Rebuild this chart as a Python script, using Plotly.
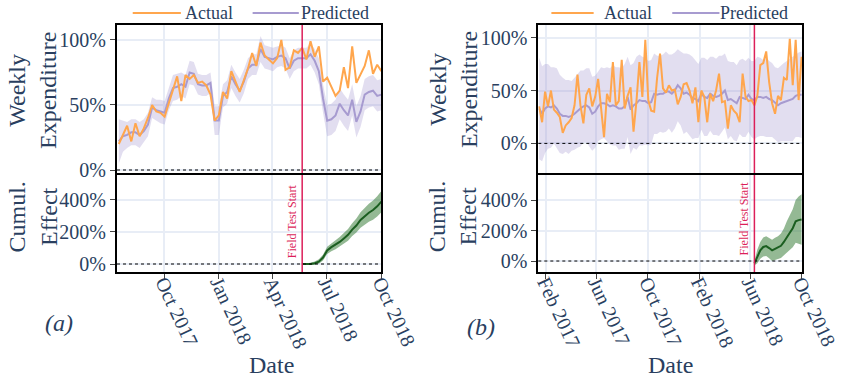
import pandas as pd
import plotly.graph_objects as go

# ---------------- data ----------------
# (a) weekly series, Jul 2017 - Sep 2018
dates_a = pd.date_range("2017-07-17", periods=64, freq="7D")
actual_a = [20, 27, 34, 22, 36, 26, 32, 40, 50, 45, 44, 41, 52, 63, 72, 53,
            73, 70, 73, 67, 68, 65, 58, 38, 42, 60, 55, 76, 68, 60, 69, 78,
            90, 80, 98, 88, 85, 82, 86, 100, 77, 79, 92, 90, 94, 85, 99, 87,
            95, 68, 71, 64, 57, 61, 79, 63, 95, 67, 73, 80, 92, 74, 81, 76]
pred_a = [22, 26, 27, 29, 29, 27, 30, 35, 48, 46, 45, 44, 55, 63, 64, 66,
          64, 75, 74, 66, 65, 65, 67, 38, 38, 57, 60, 72, 66, 61, 68, 78,
          81, 81, 93, 87, 86, 85, 87, 88, 86, 78, 84, 86, 86, 86, 89, 84,
          76, 55, 38, 39, 42, 51, 46, 42, 54, 37, 45, 58, 60, 61, 57, 58]
pred_a_spread = [17, 12, 10, 10, 10, 10, 9, 9, 8, 8, 9, 9, 9, 10, 10, 9,
                 9, 9, 9, 8, 8, 8, 8, 11, 11, 9, 9, 9, 9, 9, 9, 8,
                 8, 8, 10, 9, 9, 9, 8, 8, 8, 8, 8, 8, 8, 8, 8, 9,
                 10, 11, 12, 12, 12, 12, 12, 12, 12, 12, 12, 12, 12, 12, 12, 12]
test_start_a = "2018-05-21"
cumul_a = [0, -2, 0, 5, 15, 40, 85, 105, 120, 138, 160, 182, 215, 240,
           275, 300, 320, 337, 360, 390]
cumul_a_spread = [3, 5, 8, 10, 14, 18, 22, 25, 28, 30, 33, 36, 40, 44,
                  48, 52, 56, 60, 63, 66]

# (b) weekly series, Jan 2017 - Sep 2018
dates_b = pd.date_range("2017-01-16", periods=90, freq="7D")
actual_b = [35, 20, 49, 35, 50, 32, 29, 25, 10, 17, 20, 24, 36, 65, 36, 19,
            46, 52, 35, 44, 61, 31, 6, 47, 39, 77, 36, 40, 79, 33, 45, 53,
            11, 40, 77, 44, 98, 41, 31, 30, 62, 85, 52, 48, 55, 50, 51, 37,
            44, 56, 57, 50, 38, 53, 20, 50, 44, 20, 47, 40, 50, 66, 39, 40,
            14, 36, 31, 28, 20, 66, 44, 40, 41, 36, 45, 74, 76, 87, 58, 38,
            28, 45, 41, 62, 60, 99, 55, 98, 41, 82]
pred_b = [33, 28, 33, 35, 34, 36, 33, 28, 26, 26, 25, 26, 28, 31, 33, 35,
          36, 34, 28, 30, 35, 38, 38, 37, 35, 36, 35, 33, 33, 35, 44, 32,
          36, 38, 41, 40, 40, 38, 39, 47, 46, 47, 47, 49, 49, 47, 50, 55,
          52, 47, 48, 46, 43, 42, 40, 47, 44, 43, 47, 45, 44, 45, 47, 50,
          41, 42, 40, 38, 44, 43, 42, 46, 42, 41, 44, 44, 43, 44, 42, 41,
          38, 36, 38, 39, 40, 41, 42, 45, 46, 46]
pred_b_spread = [48, 45, 42, 40, 38, 36, 38, 37, 36, 34, 35, 33, 34, 35, 36, 34,
                 35, 37, 35, 34, 33, 34, 33, 35, 36, 38, 37, 39, 38, 40, 38, 42,
                 40, 44, 43, 42, 41, 40, 40, 38, 37, 36, 37, 38, 35, 37, 36, 34,
                 35, 38, 37, 38, 39, 37, 35, 34, 37, 36, 35, 37, 36, 38, 36, 35,
                 37, 35, 37, 36, 35, 37, 36, 35, 36, 37, 38, 37, 36, 38, 36, 35,
                 34, 35, 36, 37, 38, 39, 40, 39, 40, 41]
test_start_b = "2018-06-11"
cumul_b = [-15, 30, 70, 92, 98, 85, 70, 80, 88, 100, 125, 160, 185, 215,
           260, 268, 272]
cumul_b_spread = [15, 45, 55, 62, 65, 67, 70, 72, 75, 80, 88, 100, 112, 125,
                  140, 155, 165]

# ---------------- styling ----------------
FONT = "Liberation Serif"
TXT = "#2a3f5f"
ORANGE = "#ffa64d"
PURPLE = "#a79bd0"
PURPLE_FILL = "rgba(160,145,205,0.30)"
GREEN = "#1b5e20"
GREEN_FILL = "rgba(70,135,70,0.58)"
RED = "#dc1f5a"

W, H = 852, 379
ML, MR, MT, MB = 117, 38, 25, 107
PW, PH = W - ML - MR, H - MT - MB


def px(x):
    return (x - ML) / PW


def py(y):
    return (H - MB - y) / PH


fig = go.Figure()


def band(dates, center, spread, xa, ya, color):
    d = list(dates)
    hi = [c + s for c, s in zip(center, spread)]
    lo = [c - s for c, s in zip(center, spread)]
    fig.add_trace(go.Scatter(x=d + d[::-1], y=hi + lo[::-1], fill="toself",
                             fillcolor=color, line=dict(width=0),
                             mode="lines", hoverinfo="skip", showlegend=False,
                             xaxis=xa, yaxis=ya))


def panel(dates, actual, pred, spread, start, cumul, cspread, xt, yt, xb, yb):
    band(dates, pred, spread, xt, yt, PURPLE_FILL)
    fig.add_trace(go.Scatter(x=dates, y=pred, mode="lines", name="Predicted",
                             line=dict(color=PURPLE, width=2),
                             showlegend=False, xaxis=xt, yaxis=yt))
    fig.add_trace(go.Scatter(x=dates, y=actual, mode="lines", name="Actual",
                             line=dict(color=ORANGE, width=2),
                             showlegend=False, xaxis=xt, yaxis=yt))
    cd = [d for d in dates if d >= pd.Timestamp(start)][:len(cumul)]
    band(cd, cumul, cspread, xb, yb, GREEN_FILL)
    fig.add_trace(go.Scatter(x=cd, y=cumul, mode="lines", name="Cumul. Effect",
                             line=dict(color=GREEN, width=2),
                             showlegend=False, xaxis=xb, yaxis=yb))
    for xa, ya in ((xt, yt), (xb, yb)):
        fig.add_shape(type="line", xref=f"{xa} domain", yref=ya,
                      x0=0, x1=1, y0=0, y1=0,
                      line=dict(color="black", width=1, dash="dot"),
                      layer="above")
        fig.add_shape(type="line", xref=xa, yref=f"{ya} domain",
                      x0=start, x1=start, y0=0, y1=1,
                      line=dict(color=RED, width=1.5), layer="above")
    fig.add_annotation(text="Field Test Start", textangle=-90, xref=xb,
                       yref=yb, x=start, y=0, xanchor="right",
                       yanchor="bottom", xshift=-1, yshift=4,
                       showarrow=False, font=dict(family=FONT, size=12,
                                                  color=RED))


panel(dates_a, actual_a, pred_a, pred_a_spread, test_start_a, cumul_a,
      cumul_a_spread, "x", "y", "x3", "y3")
panel(dates_b, actual_b, pred_b, pred_b_spread, test_start_b, cumul_b,
      cumul_b_spread, "x2", "y2", "x4", "y4")

axis_common = dict(showline=True, linecolor="black", linewidth=2, mirror=True,
                   showgrid=True, gridcolor="#e8edf6", gridwidth=2,
                   zeroline=False, tickfont=dict(family=FONT, size=20,
                                                 color=TXT),
                   ticks="outside", ticklen=5, tickcolor="#444")

dom_a = [0, px(386)]
dom_b = [px(545.7), 1]
dom_top = [py(173), 1]
dom_bot = [0, py(175)]
range_a = ["2017-07-14", "2018-10-01"]
range_b = ["2017-01-14", "2018-10-02"]

xa_ticks = dict(tick0="2017-01-01", dtick="M3", tickformat="%b %Y",
                tickangle=65)
xb_ticks = dict(tick0="2017-02-01", dtick="M4", tickformat="%b %Y",
                tickangle=65)

pct_top = dict(tickvals=[0, 50, 100], ticktext=["0%", "50%", "100%"])
pct_bot = dict(tickvals=[0, 200, 400], ticktext=["0%", "200%", "400%"])

fig.update_layout(
    xaxis=dict(axis_common, domain=dom_a, anchor="y", range=range_a,
               matches="x3", showticklabels=False, ticks="", **xa_ticks),
    xaxis3=dict(axis_common, domain=dom_a, anchor="y3", range=range_a,
                ticklabelstandoff=-16, **xa_ticks),
    xaxis2=dict(axis_common, domain=dom_b, anchor="y2", range=range_b,
                matches="x4", showticklabels=False, ticks="", **xb_ticks),
    xaxis4=dict(axis_common, domain=dom_b, anchor="y4", range=range_b,
                ticklabelstandoff=-16, **xb_ticks),
    yaxis=dict(axis_common, domain=dom_top, anchor="x", range=[-2.3, 111.5],
               **pct_top),
    yaxis3=dict(axis_common, domain=dom_bot, anchor="x3", range=[-50, 556],
                **pct_bot),
    yaxis2=dict(axis_common, domain=dom_top, anchor="x2", range=[-28, 112],
                **pct_top),
    yaxis4=dict(axis_common, domain=dom_bot, anchor="x4", range=[-72, 564],
                **pct_bot),
    width=W, height=H,
    margin=dict(l=ML, r=MR, t=MT, b=MB),
    paper_bgcolor="white", plot_bgcolor="white",
    font=dict(family=FONT, color=TXT),
    showlegend=False,
)

# legend rows above each panel
legend_rows = [
    ((133, 182, 184), (255, 302, 302)),
    ((559, 602, 610), (682, 730, 729)),
]
for (a0, a1, at), (p0, p1, pt) in legend_rows:
    for x0, x1, xt, label, col in ((a0, a1, at, "Actual", ORANGE),
                                   (p0, p1, pt, "Predicted", PURPLE)):
        fig.add_shape(type="line", xref="paper", yref="paper",
                      x0=px(x0), x1=px(x1), y0=py(13), y1=py(13),
                      line=dict(color=col, width=2))
        fig.add_annotation(text=label, xref="paper", yref="paper",
                           x=px(xt), y=py(13), xanchor="left",
                           yanchor="middle", showarrow=False,
                           font=dict(family=FONT, size=18, color=TXT))

# axis titles and panel labels
titles = [
    ("Weekly<br>Expenditure", 30.5, 90, -90, "middle"),
    ("Cumul.<br>Effect", 31, 217, -90, "middle"),
    ("Weekly<br>Expenditure", 459, 90, -90, "middle"),
    ("Cumul.<br>Effect", 458, 217, -90, "middle"),
    ("Date", 274, 378.5, 0, "bottom"),
    ("Date", 680, 378.5, 0, "bottom"),
    ("<i>(a)</i>", 58, 323, 0, "middle"),
    ("<i>(b)</i>", 487, 327, 0, "middle"),
]
for text, x, y, ang, yanc in titles:
    fig.add_annotation(text=text, xref="paper", yref="paper", x=px(x),
                       y=py(y), xanchor="center", yanchor=yanc,
                       textangle=ang, showarrow=False, borderpad=0,
                       font=dict(family=FONT, size=24, color=TXT))

fig.write_html("out.html")
